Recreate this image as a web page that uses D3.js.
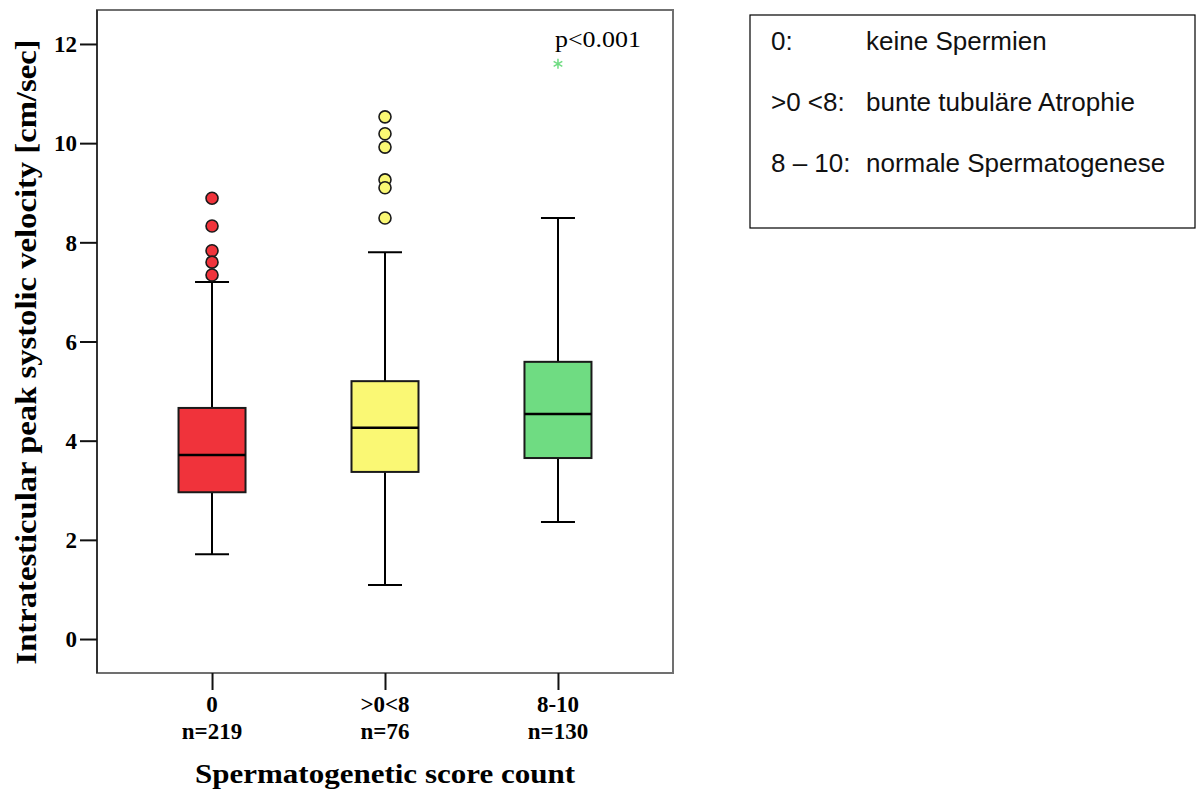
<!DOCTYPE html>
<html><head><meta charset="utf-8">
<script src="https://cdn.jsdelivr.net/npm/d3@7"></script>
<style>body{margin:0;background:#fff}</style>
</head><body>
<svg id="c" width="1196" height="791"></svg>
<script>
const categories = ["0", ">0<8", "8-10"];
const counts = ["n=219", "n=76", "n=130"];
const colors = ["#f0333b", "#faf874", "#6fdc82"];
const q1 = [2.96, 3.37, 3.65];
const median = [3.71, 4.26, 4.54];
const q3 = [4.66, 5.20, 5.59];
const whiskerLow = [1.71, 1.09, 2.36];
const whiskerHigh = [7.20, 7.80, 8.49];
const outliers = [
  [8.89, 8.33, 7.83, 7.60, 7.34],
  [10.53, 10.19, 9.92, 9.26, 9.10, 8.49],
  []
];
const extremes = [[], [], [11.60]];
const yTicks = [0, 2, 4, 6, 8, 10, 12];
const legendKeys = ["0:", ">0 <8:", "8 \u2013 10:"];
const legendTexts = ["keine Spermien", "bunte tubul\u00e4re Atrophie", "normale Spermatogenese"];

const svg = d3.select("#c");
const L = 97, R = 673, T = 10, B = 673;
const x = d3.scalePoint().domain(categories).range([L, R]).padding(0.665);
const y = d3.scaleLinear().domain([-0.685, 12.685]).range([B, T]);
const boxW = 67, capW = 34;
const serif = "'Liberation Serif','Times New Roman',serif";
const sans = "'Liberation Sans',Arial,sans-serif";

// frame
svg.append("rect").attr("x", L).attr("y", T).attr("width", R - L).attr("height", B - T)
  .attr("fill", "none").attr("stroke", "#707070").attr("stroke-width", 2);
svg.append("line").attr("x1", L).attr("x2", L).attr("y1", T).attr("y2", B)
  .attr("stroke", "#333").attr("stroke-width", 2);

// y axis
const yAxis = svg.append("g").attr("transform", `translate(${L},0)`)
  .call(d3.axisLeft(y).tickValues(yTicks).tickSize(17).tickPadding(3).tickFormat(d3.format("d")));
yAxis.select(".domain").remove();
yAxis.selectAll("line").attr("stroke", "#111").attr("stroke-width", 2);
yAxis.selectAll("text").attr("font-family", serif).attr("font-weight", "bold").attr("font-size", 23)
  .attr("fill", "#000").attr("dy", "0.34em");

// x axis
const xAxis = svg.append("g").attr("transform", `translate(0,${B})`)
  .call(d3.axisBottom(x).tickSize(17).tickFormat(() => ""));
xAxis.select(".domain").remove();
xAxis.selectAll("line").attr("stroke", "#111").attr("stroke-width", 2);

categories.forEach((c, i) => {
  svg.append("text").attr("x", x(c)).attr("y", 712).attr("text-anchor", "middle")
    .attr("font-family", serif).attr("font-weight", "bold").attr("font-size", 23).text(c);
  svg.append("text").attr("x", x(c)).attr("y", 739).attr("text-anchor", "middle")
    .attr("font-family", serif).attr("font-weight", "bold").attr("font-size", 23).text(counts[i]);
});

// axis titles
svg.append("text").attr("x", 385).attr("y", 783).attr("text-anchor", "middle")
  .attr("font-family", serif).attr("font-weight", "bold").attr("font-size", 27)
  .attr("textLength", 380).attr("lengthAdjust", "spacingAndGlyphs")
  .text("Spermatogenetic score count");
svg.append("text").attr("transform", `translate(36,352) rotate(-90)`)
  .attr("text-anchor", "middle").attr("font-family", serif).attr("font-weight", "bold").attr("font-size", 29)
  .attr("textLength", 625).attr("lengthAdjust", "spacingAndGlyphs")
  .text("Intratesticular peak systolic velocity [cm/sec]");

// boxes
categories.forEach((c, i) => {
  const cx = x(c);
  const g = svg.append("g");
  g.append("line").attr("x1", cx).attr("x2", cx).attr("y1", y(q3[i])).attr("y2", y(whiskerHigh[i]))
    .attr("stroke", "#000").attr("stroke-width", 2);
  g.append("line").attr("x1", cx).attr("x2", cx).attr("y1", y(q1[i])).attr("y2", y(whiskerLow[i]))
    .attr("stroke", "#000").attr("stroke-width", 2);
  [whiskerHigh[i], whiskerLow[i]].forEach(v => {
    g.append("line").attr("x1", cx - capW / 2).attr("x2", cx + capW / 2).attr("y1", y(v)).attr("y2", y(v))
      .attr("stroke", "#000").attr("stroke-width", 2);
  });
  g.append("rect").attr("x", cx - boxW / 2).attr("width", boxW)
    .attr("y", y(q3[i])).attr("height", y(q1[i]) - y(q3[i]))
    .attr("fill", colors[i]).attr("stroke", "#1a1a1a").attr("stroke-width", 2);
  g.append("line").attr("x1", cx - boxW / 2).attr("x2", cx + boxW / 2)
    .attr("y1", y(median[i])).attr("y2", y(median[i])).attr("stroke", "#000").attr("stroke-width", 2.5);
  g.selectAll("circle.o").data(outliers[i]).join("circle").attr("class", "o")
    .attr("cx", cx).attr("cy", d => y(d)).attr("r", 6)
    .attr("fill", colors[i]).attr("stroke", "#1a1a1a").attr("stroke-width", 1.6);
  g.selectAll("path.e").data(extremes[i]).join("path").attr("class", "e")
    .attr("transform", d => `translate(${cx},${y(d)})`)
    .attr("d", d3.symbol(d3.symbolAsterisk).size(70))
    .attr("fill", "none").attr("stroke", colors[i]).attr("stroke-width", 1.5);
});

// p value
svg.append("text").attr("x", 555).attr("y", 47).attr("font-family", serif).attr("font-size", 24)
  .attr("textLength", 86).attr("lengthAdjust", "spacingAndGlyphs").text("p<0.001");

// legend box
svg.append("rect").attr("x", 750).attr("y", 15).attr("width", 445).attr("height", 213)
  .attr("fill", "#fff").attr("stroke", "#000").attr("stroke-width", 1.2);
const rowY = [50, 111, 172];
legendKeys.forEach((k, i) => {
  svg.append("text").attr("x", 771).attr("y", rowY[i]).attr("font-family", sans)
    .attr("font-size", 26).attr("fill", "#111").text(k);
  svg.append("text").attr("x", 866).attr("y", rowY[i]).attr("font-family", sans)
    .attr("font-size", 26).attr("fill", "#111").text(legendTexts[i]);
});
</script>
</body></html>
